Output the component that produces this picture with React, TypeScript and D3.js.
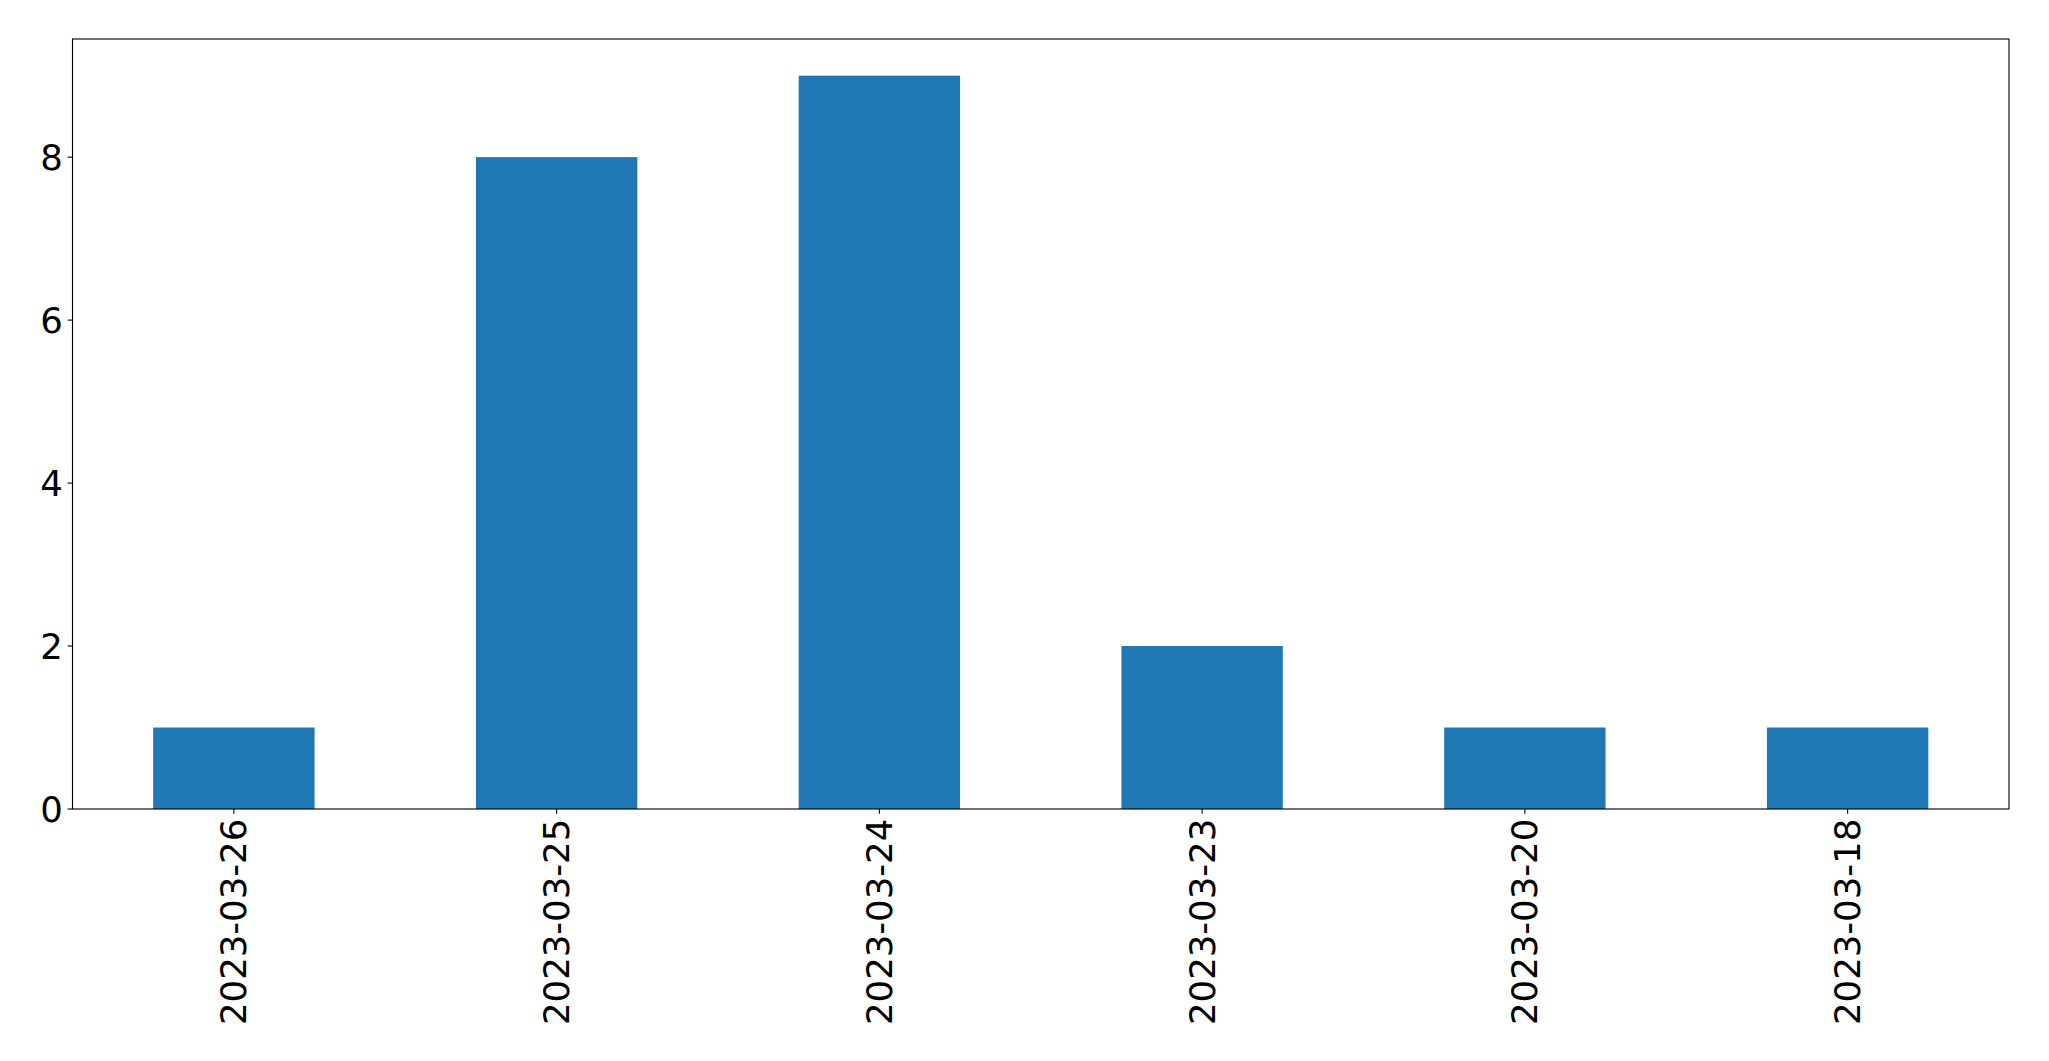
import React, { useEffect, useRef } from "react";
import * as d3 from "d3";

const categories: string[] = ["2023-03-26", "2023-03-25", "2023-03-24", "2023-03-23", "2023-03-20", "2023-03-18"];
const values: number[] = [1, 8, 9, 2, 1, 1];
const yTicks: number[] = [0, 2, 4, 6, 8];

const W = 2049;
const H = 1061;
const M = { left: 72.5, right: 2009, top: 39, bottom: 809 };

export default function App() {
  const ref = useRef<SVGSVGElement | null>(null);

  useEffect(() => {
    document.body.style.margin = "0";
    const svg = d3.select(ref.current);
    svg.selectAll("*").remove();

    const x = d3.scaleBand<string>().domain(categories).range([M.left, M.right]).paddingInner(0.5).paddingOuter(0.25);
    const yMax = d3.max(values)! * 1.05;
    const y = d3.scaleLinear().domain([0, yMax]).range([M.bottom, M.top]);

    svg.append("rect").attr("x", 0).attr("y", 0).attr("width", W).attr("height", H).attr("fill", "white");

    svg.selectAll("rect.bar")
      .data(values)
      .enter()
      .append("rect")
      .attr("class", "bar")
      .attr("x", (_d, i) => x(categories[i])!)
      .attr("width", x.bandwidth())
      .attr("y", (d) => y(d))
      .attr("height", (d) => y(0) - y(d))
      .attr("fill", "#1f77b4");

    const font = "'DejaVu Sans', sans-serif";
    const fs = 35.5;
    const tickLen = 4.86;
    const pad = 4.86;

    const yg = svg.append("g");
    yTicks.forEach((t) => {
      yg.append("line")
        .attr("x1", M.left - tickLen).attr("x2", M.left)
        .attr("y1", y(t)).attr("y2", y(t))
        .attr("stroke", "black").attr("stroke-width", 1.11);
      yg.append("text")
        .attr("x", M.left - tickLen - pad)
        .attr("y", y(t))
        .attr("text-anchor", "end")
        .attr("dominant-baseline", "central")
        .attr("font-family", font)
        .attr("font-size", fs)
        .attr("fill", "black")
        .text(String(t));
    });

    const xg = svg.append("g");
    categories.forEach((c) => {
      const cx = x(c)! + x.bandwidth() / 2;
      xg.append("line")
        .attr("x1", cx).attr("x2", cx)
        .attr("y1", M.bottom).attr("y2", M.bottom + tickLen)
        .attr("stroke", "black").attr("stroke-width", 1.11);
      xg.append("text")
        .attr("transform", `translate(${cx},${M.bottom + tickLen + pad}) rotate(-90)`)
        .attr("text-anchor", "end")
        .attr("dominant-baseline", "central")
        .attr("font-family", font)
        .attr("font-size", fs)
        .attr("fill", "black")
        .text(c);
    });

    svg.append("rect")
      .attr("x", M.left).attr("y", M.top)
      .attr("width", M.right - M.left).attr("height", M.bottom - M.top)
      .attr("fill", "none").attr("stroke", "black").attr("stroke-width", 1.11);
  }, []);

  return (
    <div style={{ position: "absolute", left: 0, top: 0 }}>
      <svg ref={ref} width={W} height={H} style={{ display: "block" }} />
    </div>
  );
}
